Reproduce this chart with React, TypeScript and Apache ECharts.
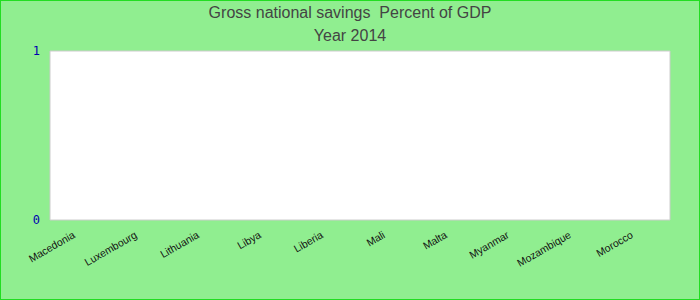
import React, { useEffect, useRef } from "react";
import * as echarts from "echarts";

const titleLines = ["Gross national savings  Percent of GDP", "Year 2014"];
const categories = [
  "Macedonia",
  "Luxembourg",
  "Lithuania",
  "Libya",
  "Liberia",
  "Mali",
  "Malta",
  "Myanmar",
  "Mozambique",
  "Morocco",
];
// No values are shown in the reference for 2014
const values: (number | null)[] = [null, null, null, null, null, null, null, null, null, null];
const yTicks = [0, 1];

export default function App() {
  const ref = useRef<HTMLDivElement>(null);
  useEffect(() => {
    if (!ref.current) return;
    const chart = echarts.init(ref.current, undefined, { renderer: "svg" });
    chart.setOption({
      animation: false,
      backgroundColor: "#90EE90",
      title: {
        text: titleLines.join("\n"),
        left: "center",
        top: 0,
        padding: 0,
        textStyle: {
          fontFamily: "Liberation Sans, Arial, sans-serif",
          fontSize: 16,
          fontWeight: "normal",
          color: "#444",
          lineHeight: 23,
        },
      },
      grid: {
        left: 49,
        right: 29,
        top: 50,
        bottom: 79,
        show: true,
        backgroundColor: "#ffffff",
        borderColor: "#cccccc",
        borderWidth: 1,
      },
      xAxis: {
        type: "category",
        data: categories,
        axisLine: { show: false },
        axisTick: { show: false },
        axisLabel: {
          interval: 0,
          rotate: 30,
          margin: 10,
          padding: [0, 8, 0, 0],
          fontSize: 10.5,
          color: "#111",
          fontFamily: "Liberation Sans, Arial, sans-serif",
        },
      },
      yAxis: {
        type: "value",
        min: yTicks[0],
        max: yTicks[yTicks.length - 1],
        interval: 1,
        axisLine: { show: false },
        axisTick: { show: false },
        splitLine: { show: false },
        axisLabel: {
          margin: 10,
          fontSize: 12,
          color: "#0000b0",
          fontFamily: "DejaVu Sans Mono, monospace",
        },
      },
      series: [
        {
          type: "bar",
          data: values,
          itemStyle: { color: "#4472c4" },
        },
      ],
    });
    return () => chart.dispose();
  }, []);
  return (
    <div
      style={{
        position: "absolute",
        left: 0,
        top: 0,
        width: 700,
        height: 300,
        boxSizing: "border-box",
        border: "1px solid #22dd22",
        background: "#90EE90",
      }}
    >
      <div ref={ref} style={{ width: 698, height: 298 }} />
    </div>
  );
}
